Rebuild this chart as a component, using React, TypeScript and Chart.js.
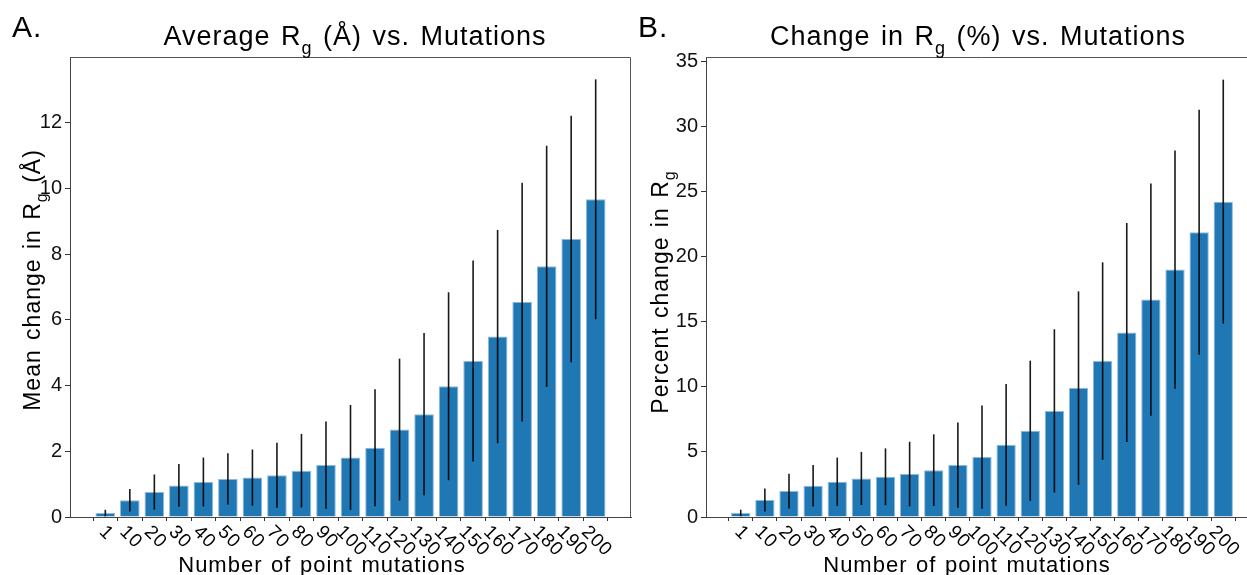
import React, { useEffect, useRef } from "react";
import { Chart, registerables } from "chart.js";

Chart.register(...registerables);

// ---------- data ----------
const mutationLabels = ["1", "10", "20", "30", "40", "50", "60", "70", "80", "90", "100", "110", "120", "130", "140", "150", "160", "170", "180", "190", "200"];

const meanRgChange = [0.12, 0.51, 0.76, 0.96, 1.065, 1.16, 1.2, 1.27, 1.41, 1.58, 1.81, 2.11, 2.66, 3.13, 3.98, 4.75, 5.49, 6.54, 7.63, 8.46, 9.67];
const sdRgChange = [0.1, 0.345, 0.535, 0.65, 0.745, 0.78, 0.855, 0.99, 1.12, 1.33, 1.6, 1.78, 2.16, 2.47, 2.86, 3.06, 3.245, 3.63, 3.67, 3.75, 3.65];

const meanPctChange = [0.31, 1.3, 1.99, 2.4, 2.71, 2.96, 3.09, 3.3, 3.6, 3.99, 4.6, 5.54, 6.62, 8.15, 9.9, 11.98, 14.17, 16.7, 19.0, 21.87, 24.22];
const sdPctChange = [0.25, 0.88, 1.34, 1.59, 1.85, 2.04, 2.18, 2.48, 2.75, 3.27, 3.97, 4.67, 5.39, 6.27, 7.43, 7.58, 8.41, 8.92, 9.15, 9.4, 9.37];

const yTicksA = [0, 2, 4, 6, 8, 10, 12];
const yTicksB = [0, 5, 10, 15, 20, 25, 30, 35];

const FONT = '"Liberation Sans", Arial, Helvetica, sans-serif';

type Seg = { t: string; sub?: boolean };

type Panel = {
  letter: string;
  title: Seg[];
  ylabel: Seg[];
  xlabel: string;
  means: number[];
  sds: number[];
  yTicks: number[];
  ymax: number;
  width: number;
  padRight: number;
  letterX: number;
  titleX: number;
  ylabelX: number;
  ylabelY: number;
  xlabelX: number;
};

function drawRich(
  ctx: CanvasRenderingContext2D,
  segs: Seg[],
  x: number,
  y: number,
  size: number,
  align: "center" | "left",
  rot = 0,
  ls = 0,
  ws = 0
) {
  ctx.save();
  ctx.translate(x, y);
  ctx.rotate(rot);
  ctx.textAlign = "left";
  ctx.textBaseline = "alphabetic";
  ctx.fillStyle = "#000";
  const c: any = ctx;
  c.letterSpacing = ls + "px";
  c.wordSpacing = ws + "px";
  const widths: number[] = [];
  let total = 0;
  for (const s of segs) {
    ctx.font = `${s.sub ? Math.round(size * 0.68) : size}px ${FONT}`;
    const w = ctx.measureText(s.t).width;
    widths.push(w);
    total += w;
  }
  let cx = align === "center" ? -total / 2 : 0;
  segs.forEach((s, i) => {
    ctx.font = `${s.sub ? Math.round(size * 0.68) : size}px ${FONT}`;
    ctx.fillText(s.t, cx, s.sub ? size * 0.32 : 0);
    cx += widths[i];
  });
  ctx.restore();
}

function makePlugin(p: Panel) {
  return {
    id: "panelDecor" + p.letter,
    afterDatasetsDraw(chart: any) {
      const ctx: CanvasRenderingContext2D = chart.ctx;
      const xs = chart.scales.x;
      const ys = chart.scales.y;
      ctx.save();
      ctx.strokeStyle = "rgba(0,0,0,0.9)";
      ctx.lineWidth = 1.6;
      p.means.forEach((m, i) => {
        const x = xs.getPixelForValue(i);
        const y1 = ys.getPixelForValue(m - p.sds[i]);
        const y2 = ys.getPixelForValue(m + p.sds[i]);
        ctx.beginPath();
        ctx.moveTo(x, y1);
        ctx.lineTo(x, y2);
        ctx.stroke();
      });
      ctx.restore();
    },
    afterDraw(chart: any) {
      const ctx: CanvasRenderingContext2D = chart.ctx;
      const a = chart.chartArea;
      const xs = chart.scales.x;
      // frame top / right
      ctx.save();
      ctx.strokeStyle = "#555";
      ctx.lineWidth = 1;
      ctx.beginPath();
      ctx.moveTo(a.left, a.top + 0.5);
      ctx.lineTo(a.right - 0.5, a.top + 0.5);
      ctx.lineTo(a.right - 0.5, a.bottom);
      ctx.stroke();
      ctx.restore();

      // rotated x tick labels
      ctx.save();
      const fs = 19;
      const c: any = ctx;
      c.letterSpacing = "1px";
      ctx.font = `${fs}px ${FONT}`;
      ctx.fillStyle = "#000";
      ctx.textAlign = "center";
      ctx.textBaseline = "middle";
      const top = a.bottom + 6;
      mutationLabels.forEach((lab, i) => {
        const w = ctx.measureText(lab).width;
        const h = fs * 0.9;
        const bb = (w + h) * Math.SQRT1_2;
        const cx = xs.getPixelForValue(i) + 1;
        const cy = top + bb / 2;
        ctx.save();
        ctx.translate(cx, cy);
        ctx.rotate(Math.PI / 4);
        ctx.fillText(lab, 0, 0);
        ctx.restore();
      });
      ctx.restore();

      // texts
      drawRich(ctx, [{ t: p.letter }], p.letterX, 37, 30, "left", 0, 1, 0);
      drawRich(ctx, p.title, p.titleX, 45, 27, "center", 0, 1, 2);
      drawRich(ctx, p.ylabel, p.ylabelX, p.ylabelY, 23, "center", -Math.PI / 2, 1, 2);
      drawRich(ctx, [{ t: p.xlabel }], p.xlabelX, 572, 22, "center", 0, 1, 1.5);
    },
  };
}

function PanelChart({ p, left }: { p: Panel; left: number }) {
  const ref = useRef<HTMLCanvasElement | null>(null);
  useEffect(() => {
    if (!ref.current) return;
    const chart = new Chart(ref.current, {
      type: "bar",
      data: {
        datasets: [
          {
            data: p.means.map((v, i) => ({ x: i, y: v })),
            backgroundColor: "#1f77b4",
            borderColor: "#8fb9dc",
            borderWidth: 1,
            barPercentage: 0.8,
            categoryPercentage: 1,
          } as any,
        ],
      },
      options: {
        animation: false,
        responsive: false,
        maintainAspectRatio: false,
        layout: { padding: { top: 57, right: p.padRight, left: 0, bottom: 0 } },
        plugins: { legend: { display: false }, tooltip: { enabled: false }, title: { display: false } },
        scales: {
          x: {
            type: "linear",
            min: -1.44,
            max: 21.44,
            offset: false,
            afterBuildTicks: (s: any) => {
              s.ticks = mutationLabels.map((_, i) => ({ value: i }));
            },
            afterFit: (s: any) => {
              s.height = 58;
            },
            ticks: { display: false },
            grid: { display: true, drawOnChartArea: false, drawTicks: true, tickLength: 4, color: "#333" },
            border: { color: "#444", width: 1 },
          },
          y: {
            type: "linear",
            min: 0,
            max: p.ymax,
            afterBuildTicks: (s: any) => {
              s.ticks = p.yTicks.map((v) => ({ value: v }));
            },
            afterFit: (s: any) => {
              s.width = 70;
            },
            ticks: { font: { family: FONT, size: 20 }, color: "#111", padding: 3 },
            grid: { display: true, drawOnChartArea: false, drawTicks: true, tickLength: 5, color: "#333" },
            border: { color: "#444", width: 1 },
          },
        },
      } as any,
      plugins: [makePlugin(p)],
    });
    return () => chart.destroy();
  }, [p]);
  return (
    <canvas
      ref={ref}
      width={p.width}
      height={575}
      style={{ position: "absolute", left, top: 0, width: p.width, height: 575 }}
    />
  );
}

const panelA: Panel = {
  letter: "A.",
  title: [{ t: "Average R" }, { t: "g", sub: true }, { t: " (Å) vs. Mutations" }],
  ylabel: [{ t: "Mean change in R" }, { t: "g", sub: true }, { t: " (Å)" }],
  xlabel: "Number of point mutations",
  means: meanRgChange,
  sds: sdRgChange,
  yTicks: yTicksA,
  ymax: 14.0,
  width: 636,
  padRight: 5,
  letterX: 12,
  titleX: 355,
  ylabelX: 40,
  ylabelY: 280,
  xlabelX: 322,
};

const panelB: Panel = {
  letter: "B.",
  title: [{ t: "Change in R" }, { t: "g", sub: true }, { t: " (%) vs. Mutations" }],
  ylabel: [{ t: "Percent change in R" }, { t: "g", sub: true }],
  xlabel: "Number of point mutations",
  means: meanPctChange,
  sds: sdPctChange,
  yTicks: yTicksB,
  ymax: 35.33,
  width: 622,
  padRight: 0,
  letterX: 2,
  titleX: 342,
  ylabelX: 32,
  ylabelY: 292,
  xlabelX: 331,
};

export default function App() {
  return (
    <div style={{ position: "absolute", left: 0, top: 0, width: 1247, height: 575, overflow: "hidden", background: "#fff" }}>
      <PanelChart p={panelA} left={0} />
      <PanelChart p={panelB} left={636} />
    </div>
  );
}
